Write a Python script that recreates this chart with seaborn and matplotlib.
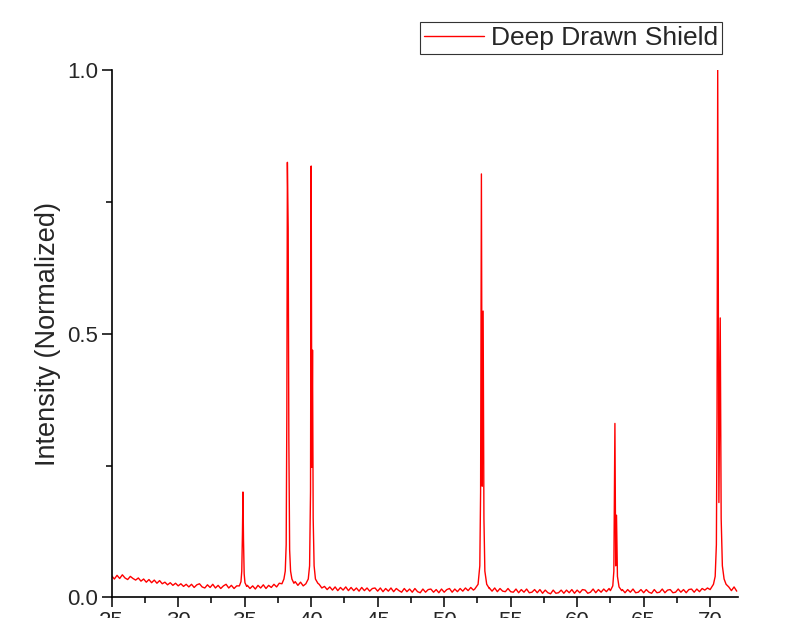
import numpy as np
import pandas as pd
import matplotlib
matplotlib.use("Agg")
import matplotlib.pyplot as plt
from matplotlib.ticker import MultipleLocator
import seaborn as sns

# Fond continu : 2theta de 25.0 a 72.0, pas de 0.2
baseline_start = 25.0
baseline_step = 0.2
baseline = [
    0.041, 0.035, 0.042, 0.036, 0.043, 0.037, 0.034, 0.040, 0.036, 0.033,
    0.037, 0.031, 0.035, 0.029, 0.034, 0.028, 0.033, 0.027, 0.032, 0.026,
    0.029, 0.024, 0.028, 0.023, 0.027, 0.022, 0.026, 0.021, 0.025, 0.020,
    0.025, 0.019, 0.024, 0.026, 0.020, 0.018, 0.024, 0.019, 0.025, 0.018,
    0.023, 0.017, 0.022, 0.025, 0.018, 0.023, 0.017, 0.022, 0.019, 0.023,
    0.018, 0.023, 0.017, 0.022, 0.016, 0.023, 0.018, 0.024, 0.017, 0.023,
    0.019, 0.025, 0.020, 0.027, 0.021, 0.028, 0.022, 0.029, 0.023, 0.030,
    0.023, 0.029, 0.022, 0.028, 0.021, 0.027, 0.025, 0.020, 0.025, 0.018,
    0.021, 0.015, 0.020, 0.014, 0.020, 0.013, 0.019, 0.014, 0.020, 0.013,
    0.019, 0.013, 0.018, 0.012, 0.019, 0.013, 0.018, 0.012, 0.017, 0.018,
    0.012, 0.018, 0.011, 0.017, 0.012, 0.018, 0.011, 0.017, 0.013, 0.010,
    0.017, 0.011, 0.016, 0.010, 0.017, 0.011, 0.009, 0.016, 0.010, 0.015,
    0.016, 0.010, 0.015, 0.009, 0.016, 0.010, 0.015, 0.017, 0.010, 0.016,
    0.011, 0.017, 0.012, 0.018, 0.013, 0.019, 0.014, 0.020, 0.015, 0.018,
    0.019, 0.013, 0.018, 0.012, 0.018, 0.011, 0.017, 0.012, 0.011, 0.017,
    0.011, 0.010, 0.016, 0.009, 0.015, 0.010, 0.016, 0.009, 0.010, 0.015,
    0.009, 0.015, 0.008, 0.014, 0.009, 0.007, 0.014, 0.008, 0.009, 0.014,
    0.008, 0.014, 0.009, 0.015, 0.008, 0.014, 0.009, 0.015, 0.014, 0.008,
    0.010, 0.016, 0.009, 0.015, 0.010, 0.016, 0.011, 0.017, 0.012, 0.011,
    0.016, 0.010, 0.015, 0.009, 0.015, 0.010, 0.016, 0.009, 0.010, 0.015,
    0.009, 0.015, 0.010, 0.008, 0.015, 0.009, 0.010, 0.016, 0.009, 0.014,
    0.015, 0.009, 0.010, 0.016, 0.010, 0.015, 0.009, 0.015, 0.016, 0.010,
    0.016, 0.011, 0.017, 0.014, 0.018, 0.016, 0.020, 0.018, 0.022, 0.020,
    0.024, 0.016, 0.022, 0.013, 0.020, 0.012,
]

# Pics (2theta, intensite normalisee)
peak_1_x = [34.60, 34.72, 34.78, 34.83, 34.87, 34.91, 34.96, 35.02, 35.15]
peak_1_y = [0.022, 0.030, 0.050, 0.120, 0.200, 0.110, 0.045, 0.028, 0.021]

peak_2_x = [37.80, 37.95, 38.05, 38.12, 38.17, 38.21, 38.27, 38.32, 38.38, 38.45, 38.55, 38.70]
peak_2_y = [0.026, 0.035, 0.050, 0.100, 0.350, 0.825, 0.700, 0.300, 0.090, 0.050, 0.035, 0.027]

peak_3_x = [39.60, 39.78, 39.88, 39.95, 40.00, 40.05, 40.10, 40.15, 40.22, 40.32, 40.50]
peak_3_y = [0.026, 0.035, 0.060, 0.200, 0.818, 0.247, 0.469, 0.150, 0.060, 0.035, 0.027]

peak_4_x = [52.30, 52.55, 52.68, 52.74, 52.80, 52.86, 52.93, 52.99, 53.06, 53.20, 53.40]
peak_4_y = [0.016, 0.025, 0.060, 0.200, 0.803, 0.211, 0.543, 0.150, 0.050, 0.025, 0.017]

peak_5_x = [62.50, 62.68, 62.76, 62.84, 62.90, 62.96, 63.03, 63.15, 63.35]
peak_5_y = [0.013, 0.022, 0.050, 0.330, 0.060, 0.156, 0.040, 0.020, 0.013]

peak_6_x = [70.00, 70.25, 70.38, 70.47, 70.52, 70.57, 70.66, 70.76, 70.83, 70.92, 71.05, 71.20, 71.40]
peak_6_y = [0.015, 0.025, 0.040, 0.100, 0.350, 1.000, 0.180, 0.530, 0.150, 0.060, 0.035, 0.025, 0.020]

series_label = "Deep Drawn Shield"
x_ticks = [25, 30, 35, 40, 45, 50, 55, 60, 65, 70]
y_ticks = [0.0, 0.5, 1.0]

# Assemblage du diffractogramme
base_x = baseline_start + baseline_step * np.arange(len(baseline))
base_y = np.array(baseline)
peaks = [(peak_1_x, peak_1_y), (peak_2_x, peak_2_y), (peak_3_x, peak_3_y),
         (peak_4_x, peak_4_y), (peak_5_x, peak_5_y), (peak_6_x, peak_6_y)]

keep = np.ones(len(base_x), dtype=bool)
for px, py in peaks:
    keep &= ~((base_x >= px[0]) & (base_x <= px[-1]))

all_x = np.concatenate([base_x[keep]] + [np.array(px) for px, py in peaks])
all_y = np.concatenate([base_y[keep]] + [np.array(py) for px, py in peaks])
df = pd.DataFrame({"two_theta": all_x, "intensity": all_y}).sort_values("two_theta")
df["sample"] = series_label

# Style
sns.set_style("ticks")
plt.rcParams["font.family"] = ["Liberation Sans", "DejaVu Sans"]

fig = plt.figure(figsize=(8.06, 6.18), dpi=100)
ax = fig.add_axes([0.1386, 0.0332, 0.7771, 0.8535])

sns.lineplot(data=df, x="two_theta", y="intensity", hue="sample",
             palette=["#ff0000"], estimator=None, sort=True,
             linewidth=1.0, ax=ax)

ax.set_xlim(25, 72.1)
ax.set_ylim(0, 1.0)
ax.set_xticks(x_ticks)
ax.set_yticks(y_ticks)
ax.xaxis.set_minor_locator(MultipleLocator(2.5))
ax.yaxis.set_minor_locator(MultipleLocator(0.25))
ax.tick_params(which="major", direction="out", length=7, width=1.1,
               labelsize=16, pad=3, color="black")
ax.tick_params(which="minor", direction="out", length=4, width=1.1, color="black")

sns.despine(ax=ax)
for side in ["left", "bottom"]:
    ax.spines[side].set_linewidth(1.2)
    ax.spines[side].set_color("black")

ax.set_xlabel("")
ax.set_ylabel("Intensity (Normalized)", fontsize=19.5, labelpad=4)

leg = ax.legend(loc="upper right", bbox_to_anchor=(0.8958, 0.9644),
                bbox_transform=fig.transFigure, fontsize=19,
                frameon=True, fancybox=False, borderaxespad=0,
                borderpad=0.15, handlelength=2.3, handletextpad=0.25)
leg.get_frame().set_edgecolor("#333333")
leg.get_frame().set_linewidth(0.8)
leg.get_frame().set_alpha(1)

plt.savefig("out.png", dpi=100)
plt.close()
